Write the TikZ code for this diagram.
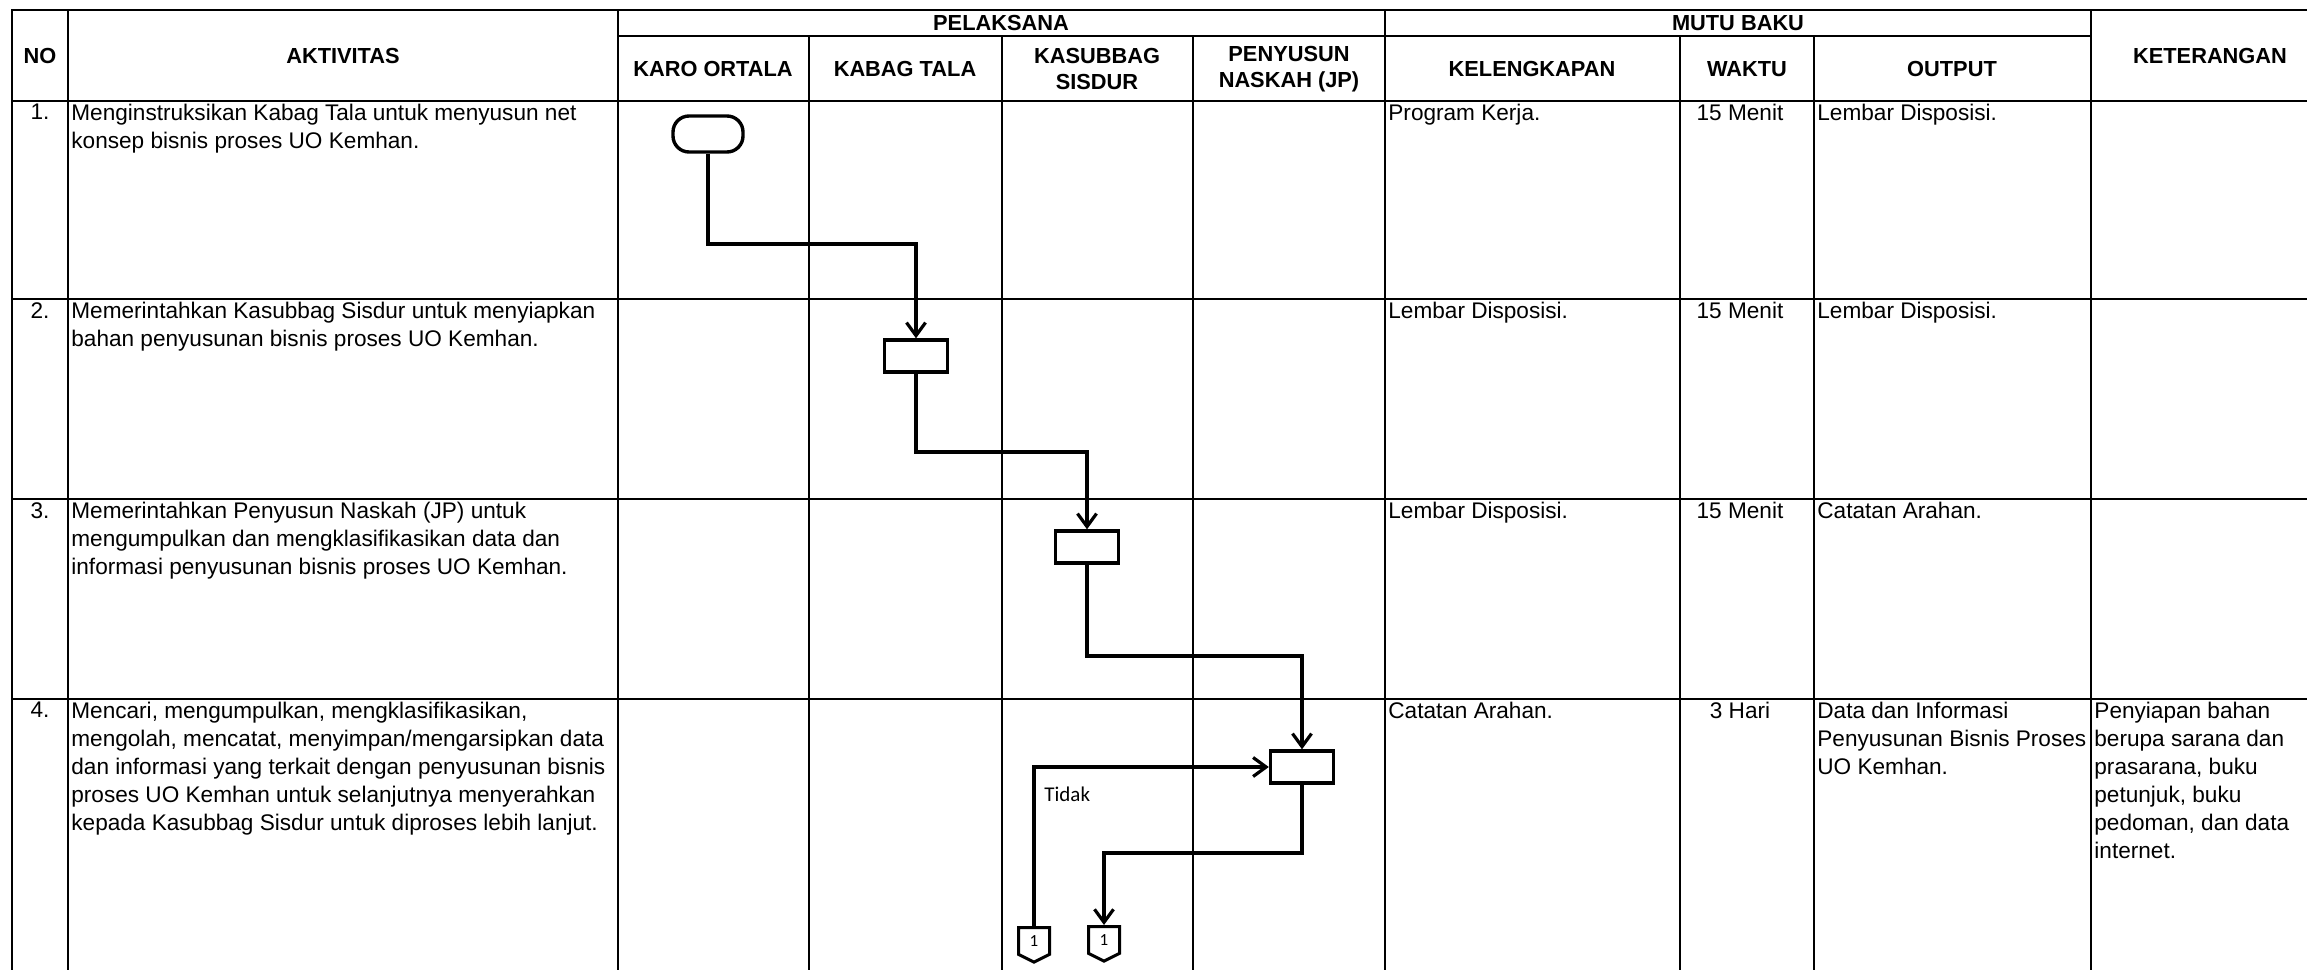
\documentclass[tikz,border=0pt]{standalone}
\usepackage{fontspec}
\setmainfont{Liberation Sans}
\newfontfamily\calibri{Carlito}
\usetikzlibrary{arrows.meta, shapes.symbols}

\begin{document}
\begin{tikzpicture}[
    x=0.5pt, y=-0.5pt,
    every node/.style={font=\fontsize{11.3}{14}\selectfont},
    hd/.style={font=\fontsize{10.9}{13.2}\selectfont\bfseries, align=center, inner sep=0pt},
    cell/.style={anchor=north west, align=left, inner sep=0pt},
    num/.style={anchor=north, inner sep=0pt},
    tm/.style={anchor=north, inner sep=0pt},
    grid/.style={line width=1.1pt, line cap=rect},
    term/.style={draw, line width=1.7pt, rounded corners=8pt,
                 minimum width=35pt, minimum height=18pt, inner sep=0pt},
    proc/.style={draw, line width=1.7pt, minimum width=31.5pt,
                 minimum height=16pt, inner sep=0pt},
    offp/.style={draw, line width=1.5pt, shape=signal, signal to=south,
                 signal pointer angle=127, minimum width=15.5pt,
                 minimum height=14.5pt, inner sep=0pt,
                 font=\calibri\fontsize{8.5}{9}\selectfont},
    flow/.style={line width=1.6pt, -{Straight Barb[length=6.5pt, width=9.5pt]}},
    lbl/.style={font=\calibri\fontsize{10.5}{12}\selectfont, inner sep=0pt,
                anchor=base west},
  ]
    \useasboundingbox (0,0) rectangle (2307,969);
    \clip (0,0) rectangle (2307,969);

    % table frame
    \foreach \y in {10,101,299,499,699} \draw[grid] (12,\y) -- (2330,\y);
    \draw[grid] (618,36) -- (2091,36);
    \foreach \x in {12,68,618,1385,2091,2330} \draw[grid] (\x,10) -- (\x,1000);
    \foreach \x in {809,1002,1193,1680,1814} \draw[grid] (\x,36) -- (\x,1000);

    % header
    \node[hd] (hNo) at (40,56) {NO};
    \node[hd] (hAkt) at (343,56) {AKTIVITAS};
    \node[hd] (hPel) at (1001,23) {PELAKSANA};
    \node[hd] (hMutu) at (1738,23) {MUTU BAKU};
    \node[hd] (hKet) at (2210,56) {KETERANGAN};
    \node[hd] (hKaro) at (713,69) {KARO ORTALA};
    \node[hd] (hKabag) at (905,69) {KABAG TALA};
    \node[hd] (hKasub) at (1097,69) {KASUBBAG\\SISDUR};
    \node[hd] (hPeny) at (1289,69) {PENYUSUN\\NASKAH (JP)};
    \node[hd] (hKel) at (1532,69) {KELENGKAPAN};
    \node[hd] (hWaktu) at (1747,69) {WAKTU};
    \node[hd] (hOut) at (1952,69) {OUTPUT};

    % row 1
    \node[num] (n1) at (40,104) {1.};
    \node[cell] (a1) at (71,104)
      {Menginstruksikan Kabag Tala untuk menyusun net\\konsep bisnis proses UO Kemhan.};
    \node[cell] (k1) at (1388,104) {Program Kerja.};
    \node[tm] (w1) at (1740,104) {15 Menit};
    \node[cell] (o1) at (1817,104) {Lembar Disposisi.};
    % row 2
    \node[num] (n2) at (40,302) {2.};
    \node[cell] (a2) at (71,302)
      {Memerintahkan Kasubbag Sisdur untuk menyiapkan\\bahan penyusunan bisnis proses UO Kemhan.};
    \node[cell] (k2) at (1388,302) {Lembar Disposisi.};
    \node[tm] (w2) at (1740,302) {15 Menit};
    \node[cell] (o2) at (1817,302) {Lembar Disposisi.};
    % row 3
    \node[num] (n3) at (40,502) {3.};
    \node[cell] (a3) at (71,502)
      {Memerintahkan Penyusun Naskah (JP) untuk\\mengumpulkan dan mengklasifikasikan data dan\\informasi penyusunan bisnis proses UO Kemhan.};
    \node[cell] (k3) at (1388,502) {Lembar Disposisi.};
    \node[tm] (w3) at (1740,502) {15 Menit};
    \node[cell] (o3) at (1817,502) {Catatan Arahan.};
    % row 4
    \node[num] (n4) at (40,702) {4.};
    \node[cell] (a4) at (71,702)
      {Mencari, mengumpulkan, mengklasifikasikan,\\mengolah, mencatat, menyimpan/mengarsipkan data\\dan informasi yang terkait dengan penyusunan bisnis\\proses UO Kemhan untuk selanjutnya menyerahkan\\kepada Kasubbag Sisdur untuk diproses lebih lanjut.};
    \node[cell] (k4) at (1388,702) {Catatan Arahan.};
    \node[tm] (w4) at (1740,702) {3 Hari};
    \node[cell] (o4) at (1817,702)
      {Data dan Informasi\\Penyusunan Bisnis Proses\\UO Kemhan.};
    \node[cell] (r4) at (2094,702)
      {Penyiapan bahan\\berupa sarana dan\\prasarana, buku\\petunjuk, buku\\pedoman, dan data\\internet.};

    % flow symbols
    \node[term] (start) at (708,134) {};
    \node[proc] (b2) at (916,356) {};
    \node[proc] (b3) at (1087,547) {};
    \node[proc] (b4) at (1302,767) {};
    \node[offp, anchor=north] (p1) at (1034,926) {1};
    \node[offp, anchor=north] (p2) at (1104,925) {1};
    \node[lbl] (tidak) at (1044,801) {Tidak};

    % bend levels
    \coordinate (j1) at (800,244);
    \coordinate (j2) at (1000,452);
    \coordinate (j3) at (1200,656);
    \coordinate (j4) at (1200,853);

    \draw[flow] (start.south) |- (j1) -| (b2.north);
    \draw[flow] (b2.south) |- (j2) -| (b3.north);
    \draw[flow] (b3.south) |- (j3) -| (b4.north);
    \draw[flow] (b4.south) |- (j4) -| (p2.north);
    \draw[flow] (p1.north) |- (b4.west);
  \end{tikzpicture}
\end{document}
